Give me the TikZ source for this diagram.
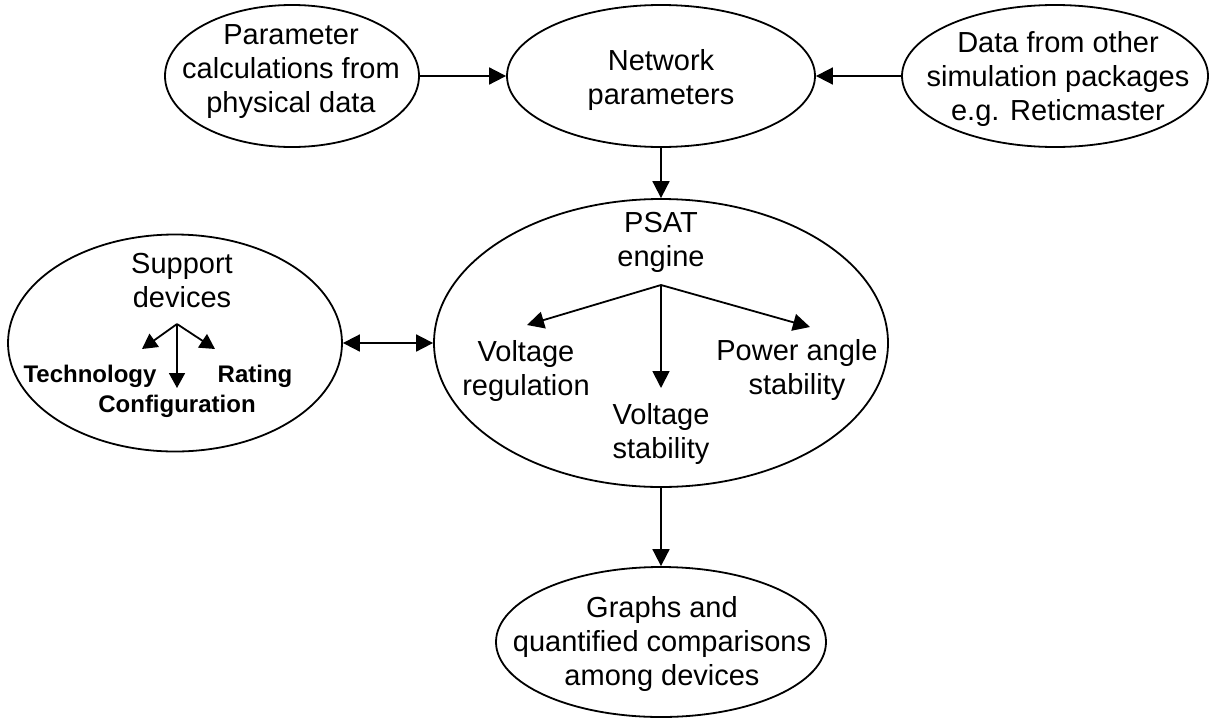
\documentclass[tikz,border=0pt]{standalone}
\usepackage{fontspec}
\setmainfont{Liberation Sans}
\usetikzlibrary{shapes.geometric,arrows.meta}
\tikzset{
  ell/.style={draw=black, line width=1.8pt, ellipse, inner sep=0pt},
  txt/.style={align=center, inner sep=0pt, font=\fontsize{29}{34}\selectfont},
  small/.style={inner sep=0pt, font=\fontsize{24}{28}\selectfont\bfseries},
  arr/.style={line width=1.8pt, -{Triangle[length=17pt,width=17pt]}},
  sarr/.style={line width=1.8pt, -{Triangle[length=15pt,width=16pt]}},
  dbl/.style={line width=1.8pt, {Triangle[length=17pt,width=17pt]}-{Triangle[length=17pt,width=17pt]}}
}
\begin{document}
\begin{tikzpicture}[x=1pt,y=-1pt]
\useasboundingbox[fill=white] (0,0) rectangle (1212,718);
% ellipses
\node[ell, minimum width=254pt, minimum height=142pt] (param) at (292,76) {};
\node[ell, minimum width=308pt, minimum height=142pt] (net) at (661,76) {};
\node[ell, minimum width=306pt, minimum height=142pt] (data) at (1055,76) {};
\node[ell, minimum width=454pt, minimum height=288pt] (psat) at (661,343) {};
\node[ell, minimum width=334pt, minimum height=217pt] (sup) at (175,343) {};
\node[ell, minimum width=330pt, minimum height=150pt] (out) at (661,642) {};
% texts
\node[txt] (paramt) at (291,72) {Parameter\\calculations from\\physical data};
\node[txt] (nett) at (661,80) {Network\\parameters};
\node[txt] (datat) at (1058,79) {Data from other\\simulation packages\\e.g. Reticmaster};
\node[txt] (psatt) at (661,242) {PSAT\\engine};
\node[txt] (vr) at (526,371) {Voltage\\regulation};
\node[txt] (vs) at (661,434) {Voltage\\stability};
\node[txt] (pas) at (797,370) {Power angle\\stability};
\node[txt] (supt) at (182,281) {Support\\devices};
\node[small, anchor=base] (tech) at (90,382) {Technology};
\node[small, anchor=base] (rat) at (255,382) {Rating};
\node[small, anchor=base] (conf) at (177,412) {Configuration};
\node[txt] (outt) at (662,644) {Graphs and\\quantified comparisons\\among devices};
% main connectors
\draw[arr] (param) -- (net);
\draw[arr] (data) -- (net);
\draw[arr] (net) -- (psat);
\draw[arr] (psat) -- (out);
\draw[dbl] (sup) -- (psat);
% PSAT internal arrows
\coordinate (hub) at (661,285);
\coordinate (tvr) at (527,325);
\coordinate (tvs) at (661,388);
\coordinate (tpas) at (810,327);
\draw[arr] (hub) -- (tvr);
\draw[arr] (hub) -- (tvs);
\draw[arr] (hub) -- (tpas);
% support internal arrows
\coordinate (shub) at (177,324);
\coordinate (stech) at (142,349);
\coordinate (srat) at (215,349);
\coordinate (sconf) at (177,388);
\draw[sarr] (shub) -- (stech);
\draw[sarr] (shub) -- (srat);
\draw[sarr] (shub) -- (sconf);
\end{tikzpicture}
\end{document}
